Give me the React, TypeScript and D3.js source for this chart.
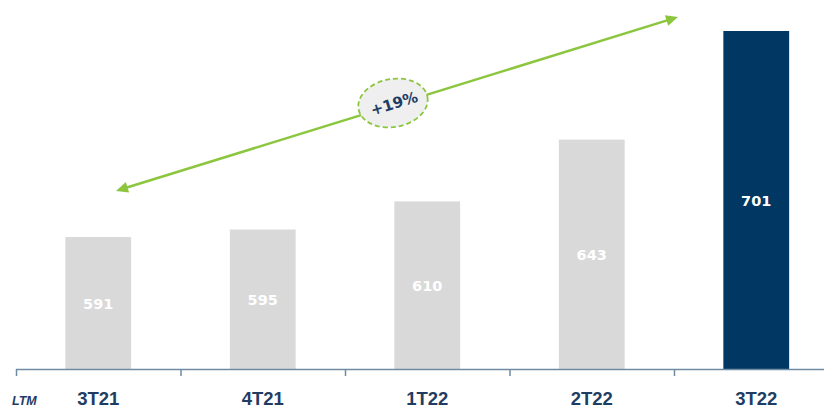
import React from "react";
import * as d3 from "d3";

const categories = ["3T21", "4T21", "1T22", "2T22", "3T22"];
const values = [591, 595, 610, 643, 701];
const highlight = [false, false, false, false, true];
const growthLabel = "+19%";
const periodLabel = "LTM";

const W = 824;
const H = 408;

export default function App() {
  const x = d3.scaleBand<string>().domain(categories).range([16, 838.5]).paddingInner(0.6).paddingOuter(0.3);
  const y = d3.scaleLinear().domain([520.5, 701]).range([369, 31]);
  const band = d3.scaleBand<string>().domain(categories).range([16, 838.5]);

  const blue = "#1f3d63";
  const green = "#8cc63e";

  // arrow annotation anchored to the scales
  const x0 = band(categories[0])! + 100;
  const y0 = y(615.6);
  const x1 = band(categories[4])! + 4;
  const y1 = y(708.5);
  const ang = Math.atan2(y1 - y0, x1 - x0);
  const deg = (ang * 180) / Math.PI;
  const head = (px: number, py: number, dir: number) => {
    const L = 12, Wd = 5.5;
    const c = Math.cos(dir), s = Math.sin(dir);
    const bx = px - c * L, by = py - s * L;
    return `M${px},${py} L${bx - s * Wd},${by + c * Wd} L${bx + s * Wd},${by - c * Wd} Z`;
  };
  const ex = 393, ey = 103;

  return (
    <svg width={W} height={H} style={{ position: "absolute", left: 0, top: 0, background: "#fff" }}
      fontFamily="'Liberation Sans', Arial, sans-serif">
      {categories.map((c, i) => (
        <rect key={c} x={x(c)} y={y(values[i])} width={x.bandwidth()} height={y(520.5) - y(values[i])}
          fill={highlight[i] ? "#003763" : "#d9d9d9"} />
      ))}
      {categories.map((c, i) => (
        <text key={c + "v"} x={x(c)! + x.bandwidth() / 2} y={(y(values[i]) + y(520.5)) / 2 + 6}
          textAnchor="middle" fill="#fff" fontWeight="bold" fontFamily="'DejaVu Sans', Verdana, sans-serif"
          style={{ fontSize: 14.5 }}>{values[i]}</text>
      ))}
      <line x1={16} x2={W} y1={369.5} y2={369.5} stroke="#6f8aa3" strokeWidth={1.5} />
      {categories.map((c) => (
        <line key={c + "t"} x1={band(c)! + 0.5} x2={band(c)! + 0.5} y1={369} y2={376} stroke="#6f8aa3" strokeWidth={1.5} />
      ))}
      {categories.map((c) => (
        <text key={c + "l"} x={band(c)! + band.bandwidth() / 2} y={405} textAnchor="middle" fill={blue}
          fontSize={18.5} fontWeight="bold">{c}</text>
      ))}
      <text x={12} y={405} fill={blue} fontSize={12.5} fontWeight="bold" fontStyle="italic">{periodLabel}</text>

      <line x1={x0 + Math.cos(ang) * 8} y1={y0 + Math.sin(ang) * 8} x2={x1 - Math.cos(ang) * 8} y2={y1 - Math.sin(ang) * 8}
        stroke={green} strokeWidth={2.5} />
      <path d={head(x0, y0, ang + Math.PI)} fill={green} />
      <path d={head(x1, y1, ang)} fill={green} />
      <ellipse cx={ex} cy={ey} rx={35} ry={24} fill="#efefef" stroke={green} strokeWidth={1.8} strokeDasharray="5,3"
        transform={`rotate(-10 ${ex} ${ey})`} />
      <text x={ex + 1} y={ey + 6} textAnchor="middle" fill={blue} fontWeight="bold"
        fontFamily="'DejaVu Sans', Verdana, sans-serif" style={{ fontSize: 15 }}
        transform={`rotate(${deg} ${ex} ${ey})`}>{growthLabel}</text>
    </svg>
  );
}
